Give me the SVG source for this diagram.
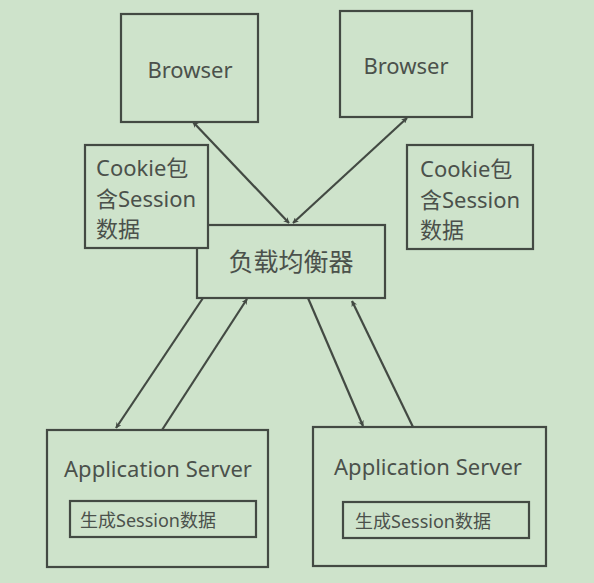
<svg xmlns="http://www.w3.org/2000/svg" width="594" height="583" viewBox="0 0 594 583">
<style>
.box{fill:none;stroke:#434a43;stroke-width:2.2}
.fb{fill:#cee3cb}
.t{font-family:"Noto Sans","Noto Sans CJK SC",sans-serif;fill:#4b514b;font-size:22px}
.c{text-anchor:middle}
.ln{stroke:#434a43;stroke-width:2.2;fill:none}
</style>
<defs>
<marker id="ah" viewBox="0 0 10 10" refX="9" refY="5" markerWidth="6" markerHeight="6" orient="auto-start-reverse" markerUnits="userSpaceOnUse">
<path d="M0,0 L10,5 L0,10 L3,5 Z" fill="#434a43"/>
</marker>
</defs>
<rect width="594" height="583" fill="#cee3cb"/>
<g id="browser1"><rect class="box" x="121" y="14" width="137" height="108"/><text class="t c" x="190" y="78">Browser</text></g>
<g id="browser2"><rect class="box" x="340" y="11" width="132" height="106"/><text class="t c" x="406" y="74">Browser</text></g>
<g id="lb"><rect class="box" x="197" y="225" width="188" height="73"/><text class="t c" x="291" y="271" style="font-size:25px">负载均衡器</text></g>
<g id="cookie1"><rect class="box fb" x="85" y="145" width="123" height="103"/>
<text class="t" x="96" y="176">Cookie包</text><text class="t" x="96" y="207">含Session</text><text class="t" x="96" y="237">数据</text></g>
<g id="cookie2"><rect class="box" x="407" y="145" width="126" height="104"/>
<text class="t" x="420" y="177">Cookie包</text><text class="t" x="420" y="208">含Session</text><text class="t" x="420" y="238">数据</text></g>
<g id="app1"><rect class="box" x="47" y="430" width="221" height="137"/><text class="t c" x="158" y="477">Application Server</text>
<rect class="box" x="70" y="501" width="186" height="36"/><text class="t c" x="148" y="527" style="font-size:18px">生成Session数据</text></g>
<g id="app2"><rect class="box" x="313" y="427" width="233" height="139"/><text class="t c" x="428" y="475">Application Server</text>
<rect class="box" x="343" y="502" width="186" height="36"/><text class="t c" x="423" y="528" style="font-size:18px">生成Session数据</text></g>
<g id="connectors">
<line class="ln" x1="193" y1="122" x2="289" y2="223" marker-start="url(#ah)" marker-end="url(#ah)"/>
<line class="ln" x1="407" y1="118" x2="293" y2="223" marker-start="url(#ah)" marker-end="url(#ah)"/>
<line class="ln" x1="203" y1="298" x2="116" y2="428" marker-end="url(#ah)"/>
<line class="ln" x1="162" y1="430" x2="247" y2="299" marker-end="url(#ah)"/>
<line class="ln" x1="308" y1="298" x2="363" y2="426" marker-end="url(#ah)"/>
<line class="ln" x1="413" y1="427" x2="352" y2="301" marker-end="url(#ah)"/>
</g>
</svg>
